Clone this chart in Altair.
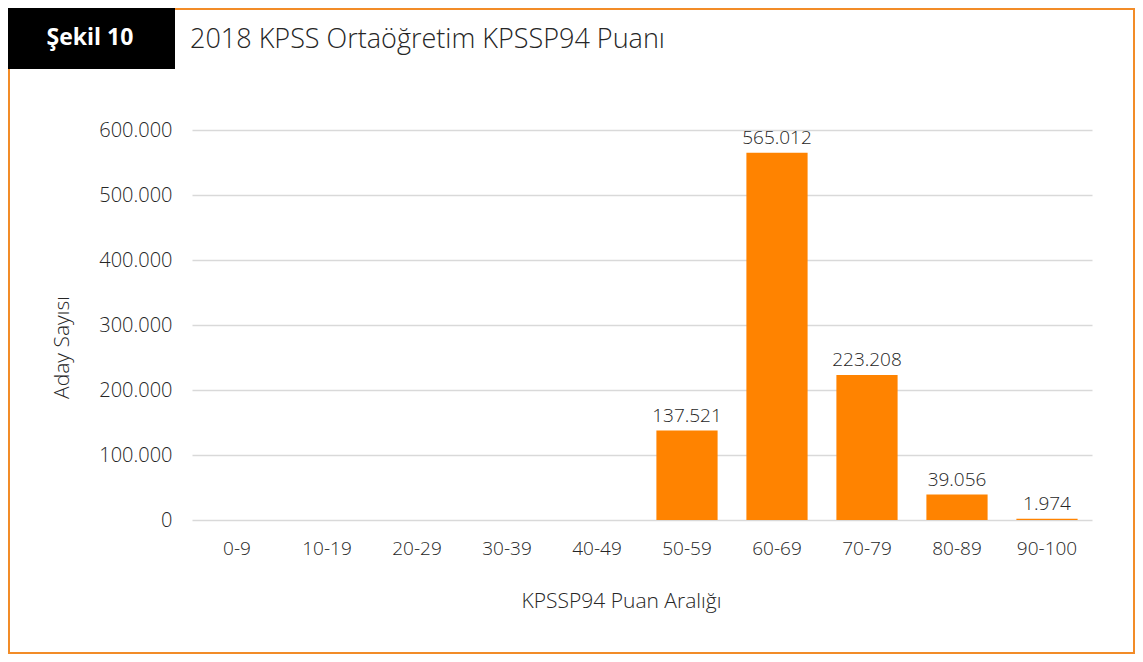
import altair as alt
import pandas as pd

categories = ["0-9", "10-19", "20-29", "30-39", "40-49", "50-59", "60-69", "70-79", "80-89", "90-100"]
counts = [0, 0, 0, 0, 0, 137521, 565012, 223208, 39056, 1974]
y_ticks = [0, 100000, 200000, 300000, 400000, 500000, 600000]

FONT = "Open Sans"
TXT = "#262626"
ORANGE = "#FF8300"
FRAME = "#F28C28"
LW = 300

df = pd.DataFrame({"cat": categories, "n": counts})
one = pd.DataFrame({"a": [0]})

W, H = 900, 390
PL, PT = 184, 122
PR, PB = 43, 134

x_enc = alt.X("cat:N", sort=categories, scale=alt.Scale(paddingInner=0.32, paddingOuter=0.16),
              axis=alt.Axis(title="KPSSP94 Puan Aralığı", labelAngle=0, ticks=False, domain=False,
                            labelPadding=19, labelFontSize=19, labelColor=TXT, labelFont=FONT,
                            labelFontWeight=LW,
                            titleFont=FONT, titleFontSize=21, titleFontWeight=LW, titleColor=TXT,
                            titleY=81, titleX=W / 2 - 21, titleBaseline="middle"))
y_enc = alt.Y("n:Q", scale=alt.Scale(domain=[0, 600000], nice=False),
              axis=alt.Axis(title="Aday Sayısı", values=y_ticks, ticks=False, domain=False,
                            grid=True, gridColor="#d9d9d9", gridWidth=1.5,
                            labelExpr="replace(format(datum.value, ',d'), ',', '.')",
                            labelPadding=20, labelFontSize=20, labelColor=TXT, labelFont=FONT,
                            labelFontWeight=LW,
                            titleFont=FONT, titleFontSize=21, titleFontWeight=LW, titleColor=TXT,
                            titleX=-130, titleY=H / 2 + 22, titleAngle=270, titleAlign="center",
                            titleBaseline="middle"))

bars = alt.Chart(df).mark_bar(color=ORANGE).encode(x=x_enc, y=y_enc)

labels = alt.Chart(df).transform_filter("datum.n > 0").transform_calculate(
    lab="replace(format(datum.n, ',d'), ',', '.')"
).mark_text(baseline="bottom", dy=-5, fontSize=19, font=FONT, fontWeight=LW, color=TXT).encode(
    x=alt.X("cat:N", sort=categories), y="n:Q", text="lab:N")

frame = alt.Chart(one).mark_rect(fillOpacity=0, stroke=FRAME, strokeWidth=2).encode(
    x=alt.value(-183), x2=alt.value(942), y=alt.value(-121), y2=alt.value(523))

badge = alt.Chart(one).mark_rect(color="black").encode(
    x=alt.value(-184), x2=alt.value(-17), y=alt.value(-122), y2=alt.value(-61))

badge_text = alt.Chart(one).mark_text(text="Şekil 10", color="white", fontSize=23, fontWeight="bold",
                                      font=FONT, align="center", baseline="middle").encode(
    x=alt.value(-102), y=alt.value(-92))

title_text = alt.Chart(one).mark_text(text="2018 KPSS Ortaöğretim KPSSP94 Puanı", color=TXT, fontSize=27,
                                      font=FONT, fontWeight=LW, align="left", baseline="middle").encode(
    x=alt.value(-2), y=alt.value(-90))

chart = alt.layer(bars, labels, frame, badge, badge_text, title_text).properties(
    width=W, height=H,
    background="white",
    autosize=alt.AutoSizeParams(type="none"),
    padding={"left": PL, "top": PT, "right": PR, "bottom": PB},
).configure_view(stroke=None, strokeWidth=0)

chart.save("out.html", embed_options={"renderer": "svg", "actions": False})
